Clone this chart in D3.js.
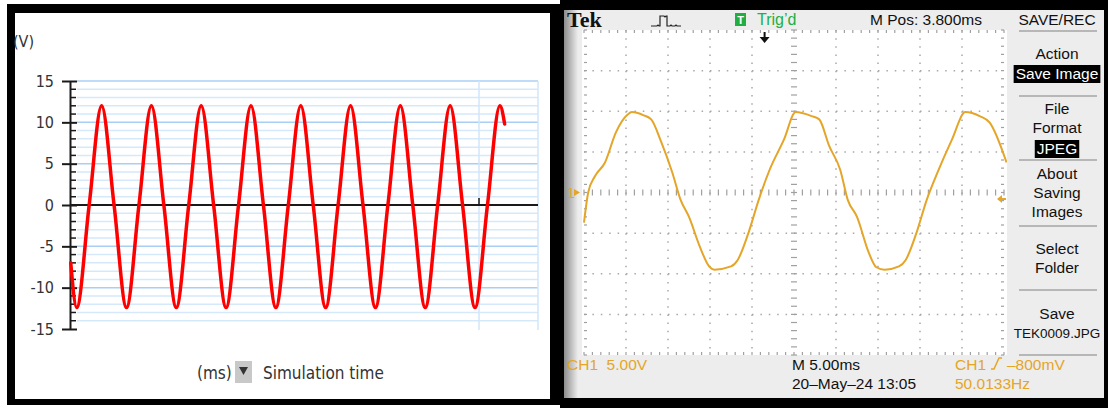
<!DOCTYPE html>
<html lang="en">
<head>
<meta charset="utf-8">
<title>Simulation vs oscilloscope</title>
<script src="https://d3js.org/d3.v7.min.js"></script>
<style>
  body { margin: 0; background: #fff; }
  svg { display: block; }
</style>
</head>
<body>
<script>
// ---- left panel: simulated output voltage (V) vs simulation time (ms)
var simTicks = [-15, -10, -5, 0, 5, 10, 15];
var simTime = [0.3, 2.7, 7.7, 12.7, 17.7, 22.7, 27.7, 32.7, 37.7, 42.7, 47.7, 52.7,
               57.7, 62.7, 67.7, 72.7, 77.7, 82.7, 87.7, 92.7, 97.7, 102.7, 107.7,
               112.7, 117.7, 122.7, 127.7, 132.7, 137.7, 142.7, 147.7, 152.7, 157.7,
               162.7, 167.7, 172.7, 174.6];
var simVolt = [-7.0,
               -12.4, 0, 12.0, 0,
               -12.4, 0, 12.0, 0,
               -12.4, 0, 12.0, 0,
               -12.4, 0, 12.0, 0,
               -12.4, 0, 12.0, 0,
               -12.4, 0, 12.0, 0,
               -12.4, 0, 12.0, 0,
               -12.4, 0, 12.0, 0,
               -12.4, 0, 12.0,
               9.8];
var simCursor = 164.3;

// ---- right panel: oscilloscope capture, CH1 5.00V/div, 5.00ms/div
var scopeTime = [0, 0.5, 1.3, 2.5, 3.8, 5.2, 5.7, 7.1, 8.0, 9.2, 10.5, 11.5, 12.5, 13.8,
                 14.9, 15.5, 17.5, 18.3, 19.6, 20.8, 22.1, 23.8, 25.2, 27.1, 28.0, 29.2,
                 30.5, 31.4, 32.5, 33.9, 34.8, 35.8, 37.5, 38.3, 39.6, 40.8, 42.1, 43.8,
                 45.4, 47.1, 48.3, 50.3];
var scopeVolt = [-3.7, 0, 2.0, 3.7, 7.4, 9.6, 9.9, 9.5, 9.0, 6.2, 2.5, -0.9, -3.0, -6.7,
                 -9.1, -9.5, -9.1, -8.3, -4.9, -0.9, 2.8, 6.5, 9.9, 9.4, 9.0, 5.7,
                 2.8, -0.9, -3.0, -7.4, -9.2, -9.5, -9.1, -8.3, -4.9, -0.9, 2.5, 6.5,
                 9.9, 9.4, 8.6, 3.7];
var trigLevel = -0.8;
var trigTime = 21.5;
var menuLines = [
  { text: "SAVE/REC", y: 25 },
  { text: "Action", y: 59 },
  { text: "Save Image", y: 79, box: true },
  { text: "File", y: 114 },
  { text: "Format", y: 133 },
  { text: "JPEG", y: 154, box: true },
  { text: "About", y: 179 },
  { text: "Saving", y: 198 },
  { text: "Images", y: 217 },
  { text: "Select", y: 254 },
  { text: "Folder", y: 273 },
  { text: "Save", y: 319 },
  { text: "TEK0009.JPG", y: 338, size: 13.5 }
];
var menuRules = [31, 96, 160, 226, 290, 355];

var w = 1108, h = 408;
var orange = "#e4a529";

var svg = d3.select("body").append("svg")
  .attr("width", w)
  .attr("height", h);

// ================= left panel =================
svg.append("rect").attr("x", 7).attr("y", 4).attr("width", 553).attr("height", 401).attr("fill", "#000");
svg.append("rect").attr("x", 15).attr("y", 13).attr("width", 535).attr("height", 386).attr("fill", "#fff");

var xSim = d3.scaleLinear().domain([0, 188]).range([70, 538]);
var ySim = d3.scaleLinear().domain([-15, 15]).range([329, 81]);

var left = svg.append("g").attr("font-family", "'DejaVu Sans Condensed', 'DejaVu Sans', sans-serif");

// horizontal grid, one line per volt
left.selectAll("line.grid")
  .data(d3.range(-14, 16).filter(function(d) { return d !== 0; }))
  .enter().append("line")
  .attr("class", "grid")
  .attr("x1", 77).attr("x2", xSim(188))
  .attr("y1", function(d) { return ySim(d); })
  .attr("y2", function(d) { return ySim(d); })
  .attr("stroke", function(d) { return d % 5 === 0 ? "#a9d0f4" : "#d5e9fb"; })
  .attr("stroke-width", 1.5);

// cursor line and right edge
left.selectAll("line.vert")
  .data([simCursor, 188])
  .enter().append("line")
  .attr("class", "vert")
  .attr("x1", function(d) { return xSim(d); })
  .attr("x2", function(d) { return xSim(d); })
  .attr("y1", ySim(15)).attr("y2", ySim(-15) + 1)
  .attr("stroke", "#d0e6fa")
  .attr("stroke-width", 1.5);

// zero line
left.append("line")
  .attr("x1", xSim(0)).attr("x2", xSim(188))
  .attr("y1", ySim(0)).attr("y2", ySim(0))
  .attr("stroke", "#1a1a1a").attr("stroke-width", 2);
left.append("line")
  .attr("x1", xSim(simCursor)).attr("x2", xSim(simCursor))
  .attr("y1", ySim(0) - 7).attr("y2", ySim(0))
  .attr("stroke", "#1a1a1a").attr("stroke-width", 1.5);

// y axis
var yAxis = d3.axisLeft(ySim)
  .tickValues(simTicks)
  .tickSizeInner(8)
  .tickSizeOuter(0)
  .tickPadding(8)
  .tickFormat(function(d) { return String(d); });

var ax = left.append("g")
  .attr("transform", "translate(" + xSim(0) + ",0)")
  .call(yAxis);
ax.select(".domain").attr("stroke", "#1a1a1a").attr("stroke-width", 2);
ax.selectAll(".tick line").attr("stroke", "#1a1a1a").attr("stroke-width", 2).attr("x2", 7).attr("x1", -8);
ax.selectAll(".tick text")
  .attr("font-family", "'DejaVu Sans Condensed', 'DejaVu Sans', sans-serif")
  .attr("font-size", 16)
  .attr("fill", "#333");

left.selectAll("line.minor")
  .data(d3.range(-15, 16).filter(function(d) { return d % 5 !== 0; }))
  .enter().append("line")
  .attr("class", "minor")
  .attr("x1", xSim(0)).attr("x2", xSim(0) + 6)
  .attr("y1", function(d) { return ySim(d); })
  .attr("y2", function(d) { return ySim(d); })
  .attr("stroke", "#1a1a1a").attr("stroke-width", 1.5);

// the simulated waveform
var simLine = d3.line()
  .x(function(d, i) { return xSim(simTime[i]); })
  .y(function(d) { return ySim(d); })
  .curve(d3.curveMonotoneX);

left.append("path")
  .attr("d", simLine(simVolt))
  .attr("fill", "none")
  .attr("stroke", "#ff0000")
  .attr("stroke-width", 3.5)
  .attr("stroke-linejoin", "round")
  .attr("stroke-linecap", "round");

left.append("text").attr("x", 13).attr("y", 47)
  .attr("font-size", 16).attr("fill", "#333").text("(V)");

// x axis caption row
left.append("text").attr("x", 197).attr("y", 379)
  .attr("font-size", 17).attr("fill", "#333").text("(ms)");
left.append("rect").attr("x", 235).attr("y", 361).attr("width", 17).attr("height", 22).attr("fill", "#c8c8c8");
left.append("path").attr("d", "M239,367 L248,367 L243.5,375 Z").attr("fill", "#333");
left.append("text").attr("x", 263).attr("y", 379)
  .attr("font-size", 17).attr("fill", "#333").text("Simulation time");

// ================= right panel =================
svg.append("rect").attr("x", 560).attr("y", 0).attr("width", 548).attr("height", 408).attr("fill", "#000");
svg.append("rect").attr("x", 564).attr("y", 10).attr("width", 540).attr("height", 388).attr("fill", "#ededed");

var grad = svg.append("defs").append("linearGradient").attr("id", "edge");
grad.append("stop").attr("offset", "0%").attr("stop-color", "#8c8c8c");
grad.append("stop").attr("offset", "100%").attr("stop-color", "#ededed");
svg.append("rect").attr("x", 564).attr("y", 10).attr("width", 14).attr("height", 388).attr("fill", "url(#edge)");

var xS = d3.scaleLinear().domain([0, 50]).range([584, 1004]);
var yS = d3.scaleLinear().domain([-20, 20]).range([355, 30]);

svg.append("rect").attr("x", 582).attr("y", 30).attr("width", 425).attr("height", 325).attr("fill", "#fff");

var scope = svg.append("g");
var dotX = (xS(1) - xS(0));   // one fifth of a division, horizontal
var dotY = (yS(0) - yS(1));   // one fifth of a division, vertical

// dotted division lines
scope.selectAll("line.vdiv")
  .data(d3.range(5, 50, 5).filter(function(d) { return d !== 25; }))
  .enter().append("line")
  .attr("x1", function(d) { return xS(d); }).attr("x2", function(d) { return xS(d); })
  .attr("y1", yS(20)).attr("y2", yS(-20))
  .attr("stroke", "#a8a8a8").attr("stroke-width", 1.5)
  .attr("stroke-dasharray", "1.5," + (dotY - 1.5));
scope.selectAll("line.hdiv")
  .data(d3.range(-15, 20, 5).filter(function(d) { return d !== 0; }))
  .enter().append("line")
  .attr("x1", xS(0)).attr("x2", xS(50))
  .attr("y1", function(d) { return yS(d); }).attr("y2", function(d) { return yS(d); })
  .attr("stroke", "#a8a8a8").attr("stroke-width", 1.5)
  .attr("stroke-dasharray", "1.5," + (dotX - 1.5));

// ticked centre lines and edges
var tx = d3.range(0, 51);
var ty = d3.range(-20, 21);
function vTicks(cls, y, up, down) {
  scope.selectAll("line." + cls).data(tx).enter().append("line")
    .attr("class", cls)
    .attr("x1", function(d) { return xS(d); }).attr("x2", function(d) { return xS(d); })
    .attr("y1", y - up).attr("y2", y + down)
    .attr("stroke", "#a0a0a0").attr("stroke-width", 1.2);
}
function hTicks(cls, x, l, r) {
  scope.selectAll("line." + cls).data(ty).enter().append("line")
    .attr("class", cls)
    .attr("y1", function(d) { return yS(d); }).attr("y2", function(d) { return yS(d); })
    .attr("x1", x - l).attr("x2", x + r)
    .attr("stroke", "#a0a0a0").attr("stroke-width", 1.2);
}
vTicks("tc", yS(0), 3, 3);
vTicks("tt", yS(20), 0, 3);
vTicks("tb", yS(-20), 3, 0);
hTicks("hc", xS(25), 3, 3);
hTicks("hl", xS(0), 0, 3);
hTicks("hr", xS(50), 3, 0);

// waveform
svg.append("clipPath").attr("id", "screen")
  .append("rect").attr("x", 582).attr("y", 30).attr("width", 425).attr("height", 325);

var scopeLine = d3.line()
  .x(function(d, i) { return xS(scopeTime[i]); })
  .y(function(d) { return yS(d); })
  .curve(d3.curveMonotoneX);

scope.append("path")
  .attr("clip-path", "url(#screen)")
  .attr("d", scopeLine(scopeVolt))
  .attr("fill", "none")
  .attr("stroke", orange)
  .attr("stroke-width", 2)
  .attr("stroke-linejoin", "round");

// markers: ground, trigger level, trigger position
scope.append("text").attr("x", 567).attr("y", yS(0) + 5)
  .attr("font-family", "'Liberation Sans', Arial, sans-serif").attr("font-size", 14)
  .attr("fill", orange).text("1");
scope.append("path")
  .attr("d", "M574," + (yS(0) - 3.5) + " L580," + yS(0) + " L574," + (yS(0) + 3.5) + " Z")
  .attr("fill", orange);
var ty0 = yS(trigLevel);
scope.append("path")
  .attr("d", "M997," + ty0 + " L1002," + (ty0 - 4) + " L1002," + (ty0 - 1) + " L1006," + (ty0 - 1) +
             " L1006," + (ty0 + 1) + " L1002," + (ty0 + 1) + " L1002," + (ty0 + 4) + " Z")
  .attr("fill", orange);
var tx0 = xS(trigTime);
scope.append("path")
  .attr("d", "M" + (tx0 - 1) + ",32 L" + (tx0 + 1) + ",32 L" + (tx0 + 1) + ",37 L" + (tx0 + 5) + ",37 L" +
             tx0 + ",43 L" + (tx0 - 5) + ",37 L" + (tx0 - 1) + ",37 Z")
  .attr("fill", "#111");

// ---- text around the screen
var sans = "'Liberation Sans', Arial, sans-serif";

svg.append("text").attr("x", 567).attr("y", 27)
  .attr("font-family", "'Liberation Serif', 'Times New Roman', serif").attr("font-weight", "bold")
  .attr("font-size", 22).attr("fill", "#111").text("Tek");

svg.append("path")
  .attr("d", "M651,26 L657,26 L658,25 L659,26 L660,26 L660,16 L664,16 L665,17 L666,16 L667,16 L667,26 L670,26 L671,25 L672,26 L675,26 L676,25 L677,26 L681,26")
  .attr("fill", "none").attr("stroke", "#222").attr("stroke-width", 1.2);

svg.append("rect").attr("x", 735).attr("y", 13).attr("width", 11).attr("height", 13).attr("fill", "#1fae3f");
svg.append("text").attr("x", 740.5).attr("y", 24).attr("text-anchor", "middle")
  .attr("font-family", sans).attr("font-size", 11).attr("font-weight", "bold").attr("fill", "#fff").text("T");
svg.append("text").attr("x", 757).attr("y", 25)
  .attr("font-family", sans).attr("font-size", 16).attr("fill", "#22b040").text("Trig\u2019d");

svg.append("text").attr("x", 870).attr("y", 25)
  .attr("font-family", sans).attr("font-size", 15.5).attr("fill", "#111").text("M Pos: 3.800ms");

// side menu
var menuX = 1057;
var menu = svg.append("g").attr("font-family", sans).attr("font-size", 15.5);
menu.selectAll("line.rule")
  .data(menuRules)
  .enter().append("line")
  .attr("x1", 1019).attr("x2", 1097)
  .attr("y1", function(d) { return d; }).attr("y2", function(d) { return d; })
  .attr("stroke", "#a5a5a5").attr("stroke-width", 1.5);

menuLines.forEach(function(m) {
  var t = menu.append("text")
    .attr("x", menuX).attr("y", m.y)
    .attr("text-anchor", "middle")
    .attr("fill", m.box ? "#fff" : "#111")
    .text(m.text);
  if (m.size) t.attr("font-size", m.size);
  if (m.box) {
    var bb = t.node().getBBox();
    menu.insert("rect", "text")
      .attr("x", bb.x - 2).attr("y", m.y - 14)
      .attr("width", bb.width + 4).attr("height", 18)
      .attr("fill", "#000");
  }
});

// bottom status line
var statusBar = svg.append("g").attr("font-family", sans).attr("font-size", 15.5);
statusBar.append("text").attr("x", 567).attr("y", 370).attr("fill", orange).attr("xml:space", "preserve").text("CH1  5.00V");
statusBar.append("text").attr("x", 792).attr("y", 370).attr("fill", "#111").text("M 5.00ms");
statusBar.append("text").attr("x", 792).attr("y", 389).attr("fill", "#111").text("20\u2013May\u201324 13:05");
statusBar.append("text").attr("x", 955).attr("y", 370).attr("fill", orange).text("CH1");
statusBar.append("path").attr("d", "M991,369 L994,369 L999,358 L1002,358")
  .attr("fill", "none").attr("stroke", orange).attr("stroke-width", 1.5);
statusBar.append("text").attr("x", 1007).attr("y", 370).attr("fill", orange).text("\u2013800mV");
statusBar.append("text").attr("x", 955).attr("y", 389).attr("fill", orange).text("50.0133Hz");
</script>
</body>
</html>
